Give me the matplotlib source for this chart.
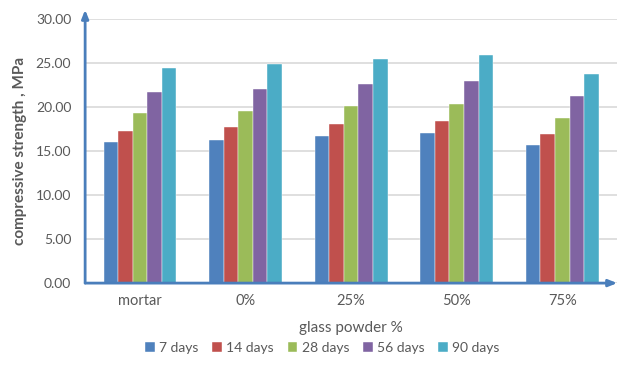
import matplotlib
matplotlib.use("Agg")
import matplotlib.pyplot as plt
import numpy as np

plt.rcParams['font.family'] = ['Lato', 'DejaVu Sans']

categories = ["mortar", "0%", "25%", "50%", "75%"]
series_names = ["7 days", "14 days", "28 days", "56 days", "90 days"]
days_7 = [16.0, 16.3, 16.7, 17.05, 15.7]
days_14 = [17.3, 17.7, 18.1, 18.4, 16.9]
days_28 = [19.3, 19.6, 20.15, 20.4, 18.8]
days_56 = [21.7, 22.1, 22.6, 23.0, 21.2]
days_90 = [24.45, 24.85, 25.5, 25.9, 23.8]
y_ticks = [0, 5, 10, 15, 20, 25, 30]

series = [days_7, days_14, days_28, days_56, days_90]
colors = ["#4F81BD", "#C0504D", "#9BBB59", "#8064A2", "#4BACC6"]
axis_blue = "#4A7EBB"
text_gray = "#595959"

fig = plt.figure(figsize=(6.26, 3.80), dpi=100)
ax = fig.add_axes([0.136, 0.255, 0.850, 0.695])

x = np.arange(len(categories))
n = len(series)
bar_w = 0.138
for i, (vals, name, c) in enumerate(zip(series, series_names, colors)):
    offs = (i - (n - 1) / 2) * bar_w
    ax.bar(x + offs, vals, width=bar_w, color=c, label=name, zorder=3,
           edgecolor="white", linewidth=0.3)

ax.set_xlim(-0.52, len(categories) - 0.48)
ax.set_ylim(0, 30)
ax.set_yticks(y_ticks)
ax.set_yticklabels([f"{v:.2f}" for v in y_ticks])
ax.set_xticks(x)
ax.set_xticklabels(categories)
ax.tick_params(axis="both", length=0, labelsize=10, colors=text_gray)
ax.tick_params(axis="x", pad=8, labelsize=10.5)
ax.tick_params(axis="y", pad=10)

ax.grid(axis="y", color="#D9D9D9", linewidth=1.2, zorder=0)
for s in ax.spines.values():
    s.set_visible(False)

# axis lines with arrow heads
arrow_style = "-|>,head_length=0.5,head_width=0.2"
ax.annotate("", xy=(0, 1.035), xytext=(0, 0), xycoords="axes fraction",
            arrowprops=dict(arrowstyle=arrow_style, color=axis_blue, lw=2.0,
                            shrinkA=0, shrinkB=0),
            annotation_clip=False, zorder=5)
ax.annotate("", xy=(1.0, 0), xytext=(0, 0), xycoords="axes fraction",
            arrowprops=dict(arrowstyle=arrow_style, color=axis_blue, lw=2.0,
                            shrinkA=0, shrinkB=0),
            annotation_clip=False, zorder=5)

ax.set_ylabel("compressive strength , MPa", fontsize=11, fontweight="bold",
              color=text_gray, labelpad=6)
ax.set_xlabel("glass powder %", fontsize=11, color=text_gray, labelpad=9)

handles, labels = ax.get_legend_handles_labels()
fig.legend(handles, labels, loc="center", bbox_to_anchor=(0.515, 0.085),
           ncol=5, frameon=False, fontsize=10, labelcolor=text_gray,
           handlelength=0.7, handleheight=0.7, handletextpad=0.3,
           columnspacing=1.0)

fig.savefig("out.png", dpi=100)
